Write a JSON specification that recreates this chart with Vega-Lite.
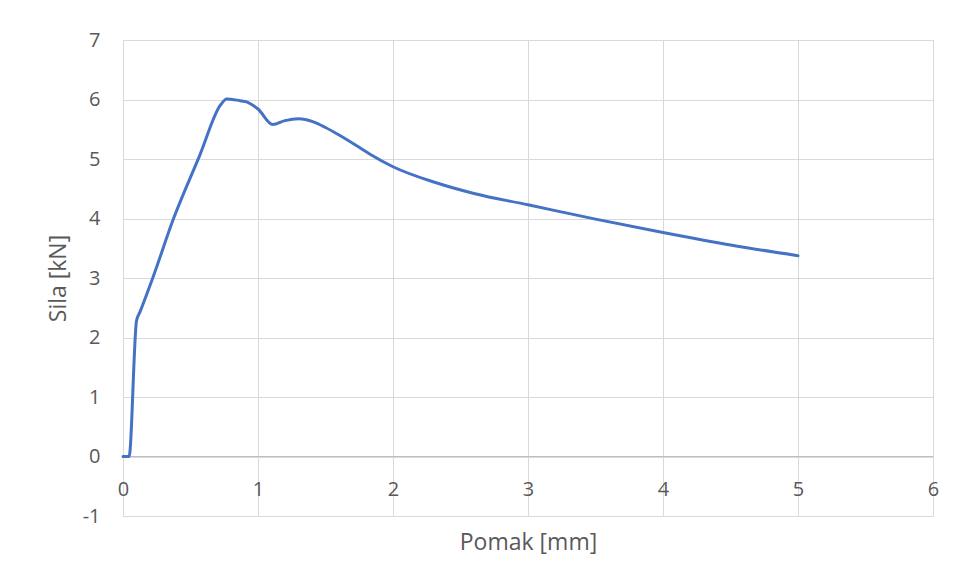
{
  "$schema": "https://vega.github.io/schema/vega-lite/v6.json",
  "width": 810,
  "height": 476,
  "autosize": {"type": "none"},
  "padding": {"left": 123, "top": 40, "right": 22, "bottom": 62},
  "background": "white",
  "config": {
    "font": "Open Sans",
    "view": {"stroke": "#d9d9d9", "strokeWidth": 1},
    "axis": {"labelColor": "#595959", "titleColor": "#595959", "gridColor": "#d9d9d9", "gridWidth": 1, "labelFont": "Open Sans", "titleFont": "Open Sans", "titleFontWeight": "normal"}
  },
  "layer": [
    {
      "data": {"values": [{"y": 0}]},
      "mark": {"type": "rule", "color": "#bfbfbf", "strokeWidth": 1},
      "encoding": {"y": {"field": "y", "type": "quantitative", "scale": {"domain": [-1, 7]}}}
    },
    {
      "data": {"values": [
        {"pomak": 0, "sila": 0},
        {"pomak": 0.045, "sila": 0},
        {"pomak": 0.1, "sila": 2.28},
        {"pomak": 0.126, "sila": 2.43},
        {"pomak": 0.225, "sila": 3.03},
        {"pomak": 0.373, "sila": 3.99},
        {"pomak": 0.57, "sila": 5.07},
        {"pomak": 0.72, "sila": 5.9},
        {"pomak": 0.768, "sila": 6.01},
        {"pomak": 0.867, "sila": 5.98},
        {"pomak": 0.916, "sila": 5.96},
        {"pomak": 1.0, "sila": 5.84},
        {"pomak": 1.109, "sila": 5.58},
        {"pomak": 1.2, "sila": 5.645},
        {"pomak": 1.3, "sila": 5.675},
        {"pomak": 1.41, "sila": 5.625},
        {"pomak": 1.5, "sila": 5.53},
        {"pomak": 1.61, "sila": 5.39},
        {"pomak": 1.76, "sila": 5.18},
        {"pomak": 1.83, "sila": 5.08},
        {"pomak": 2.0, "sila": 4.87},
        {"pomak": 2.32, "sila": 4.6},
        {"pomak": 2.6, "sila": 4.42},
        {"pomak": 3.0, "sila": 4.23},
        {"pomak": 3.5, "sila": 3.99},
        {"pomak": 4.0, "sila": 3.765},
        {"pomak": 4.5, "sila": 3.555},
        {"pomak": 5.0, "sila": 3.375}
      ]},
      "mark": {"type": "line", "color": "#4472C4", "strokeWidth": 3, "interpolate": "monotone", "strokeCap": "round", "strokeJoin": "round"},
      "encoding": {
        "x": {
          "field": "pomak", "type": "quantitative",
          "scale": {"domain": [0, 6], "nice": false},
          "axis": {
            "title": "Pomak [mm]", "titleFontSize": 23, "titlePadding": 15,
            "values": [0, 1, 2, 3, 4, 5, 6], "labelExpr": "'' + datum.value",
            "labelFontSize": 20, "ticks": false, "domain": false,
            "labelPadding": -27, "labelBaseline": "middle", "labelFlush": false
          }
        },
        "y": {
          "field": "sila", "type": "quantitative",
          "scale": {"domain": [-1, 7], "nice": false},
          "axis": {
            "title": "Sila [kN]", "titleFontSize": 23, "titlePadding": 12,
            "values": [-1, 0, 1, 2, 3, 4, 5, 6, 7], "labelExpr": "'' + datum.value",
            "labelFontSize": 20, "ticks": false, "domain": false,
            "labelPadding": 23, "labelFlush": false
          }
        }
      }
    }
  ]
}
